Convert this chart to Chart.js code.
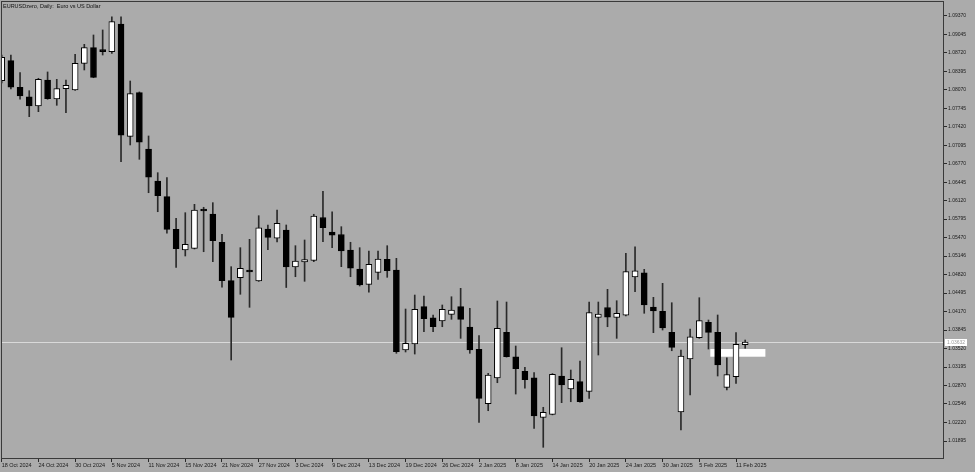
<!DOCTYPE html>
<html>
<head>
<meta charset="utf-8">
<script src="https://cdn.jsdelivr.net/npm/chart.js@4"></script>
<style>
    html, body { margin: 0; padding: 0; background: #ababab; }
    canvas { display: block; }
</style>
</head>
<body>
<canvas id="myChart" width="975" height="472"></canvas>
<script>
const symbolTitle = 'EURUSDzero, Daily:  Euro vs US Dollar';

const dates = [
    '18 Oct 2024','21 Oct 2024','22 Oct 2024','23 Oct 2024','24 Oct 2024','25 Oct 2024','28 Oct 2024','29 Oct 2024','30 Oct 2024','31 Oct 2024',
    '1 Nov 2024','4 Nov 2024','5 Nov 2024','6 Nov 2024','7 Nov 2024','8 Nov 2024','11 Nov 2024','12 Nov 2024','13 Nov 2024','14 Nov 2024',
    '15 Nov 2024','18 Nov 2024','19 Nov 2024','20 Nov 2024','21 Nov 2024','22 Nov 2024','25 Nov 2024','26 Nov 2024','27 Nov 2024','28 Nov 2024',
    '29 Nov 2024','2 Dec 2024','3 Dec 2024','4 Dec 2024','5 Dec 2024','6 Dec 2024','9 Dec 2024','10 Dec 2024','11 Dec 2024','12 Dec 2024',
    '13 Dec 2024','16 Dec 2024','17 Dec 2024','18 Dec 2024','19 Dec 2024','20 Dec 2024','23 Dec 2024','24 Dec 2024','26 Dec 2024','27 Dec 2024',
    '30 Dec 2024','31 Dec 2024','2 Jan 2025','3 Jan 2025','6 Jan 2025','7 Jan 2025','8 Jan 2025','9 Jan 2025','10 Jan 2025','13 Jan 2025',
    '14 Jan 2025','15 Jan 2025','16 Jan 2025','17 Jan 2025','20 Jan 2025','21 Jan 2025','22 Jan 2025','23 Jan 2025','24 Jan 2025','27 Jan 2025',
    '28 Jan 2025','29 Jan 2025','30 Jan 2025','31 Jan 2025','3 Feb 2025','4 Feb 2025','5 Feb 2025','6 Feb 2025','7 Feb 2025','10 Feb 2025',
    '11 Feb 2025','12 Feb 2025'
];

const open = [
    1.08228,1.08579,1.08112,1.07946,1.07783,1.08240,1.07906,1.08087,1.08064,1.08533,
    1.08808,1.08740,1.08737,1.09224,1.07250,1.08017,1.07027,1.06465,1.06189,1.05616,
    1.05252,1.05282,1.05955,1.05885,1.05388,1.04713,1.04765,1.04880,1.04707,1.05621,
    1.05458,1.05604,1.04953,1.05041,1.05068,1.05823,1.05565,1.05525,1.05252,1.04918,
    1.04649,1.04860,1.05089,1.04901,1.03495,1.03600,1.04256,1.04062,1.04004,1.04122,
    1.04256,1.03899,1.03507,1.02551,1.03003,1.03806,1.03377,1.03120,1.03008,1.02312,
    1.02365,1.03038,1.02809,1.02938,1.02769,1.04069,1.04242,1.04066,1.04105,1.04778,
    1.04853,1.04250,1.04175,1.03806,1.02405,1.03337,1.03711,1.03982,1.03806,1.02839,
    1.03025,1.03590
];
const high = [
    1.08679,1.08679,1.08368,1.08052,1.08270,1.08381,1.08252,1.08240,1.08692,1.08867,
    1.09031,1.09119,1.09352,1.09352,1.08222,1.08030,1.07256,1.06611,1.06523,1.05809,
    1.05908,1.06055,1.06003,1.06084,1.05528,1.04959,1.05293,1.05440,1.05855,1.05692,
    1.05955,1.05692,1.05328,1.05428,1.05880,1.06284,1.05925,1.05662,1.05388,1.05293,
    1.05235,1.05235,1.05328,1.05106,1.04215,1.04461,1.04444,1.04110,1.04286,1.04431,
    1.04579,1.04228,1.03750,1.03085,1.04356,1.04338,1.03565,1.03191,1.03096,1.02488,
    1.03080,1.03535,1.03143,1.03301,1.04338,1.04338,1.04561,1.04361,1.05194,1.05310,
    1.04913,1.04421,1.04667,1.04326,1.03495,1.03864,1.04414,1.04022,1.04110,1.03359,
    1.03799,1.03670
];
const low = [
    1.08187,1.08082,1.07901,1.07595,1.07683,1.07901,1.07795,1.07665,1.08055,1.08416,
    1.08280,1.08679,1.08709,1.06804,1.07098,1.06846,1.06259,1.05925,1.05546,1.04948,
    1.05147,1.05270,1.05222,1.05047,1.04597,1.03319,1.04474,1.04245,1.04700,1.05257,
    1.05393,1.04593,1.04783,1.04702,1.05047,1.05398,1.05293,1.04959,1.04783,1.04620,
    1.04509,1.04737,1.04772,1.03437,1.03460,1.03424,1.03816,1.03816,1.03904,1.04034,
    1.03700,1.03437,1.02224,1.02428,1.02920,1.03370,1.02721,1.02822,1.02119,1.01785,
    1.02355,1.02569,1.02586,1.02580,1.02646,1.03407,1.03904,1.03700,1.04095,1.04519,
    1.04140,1.03799,1.03846,1.03482,1.02089,1.02704,1.03700,1.03512,1.03038,1.02792,
    1.02909,1.03525
];
const close = [
    1.08639,1.08112,1.07959,1.07783,1.08252,1.07911,1.08087,1.08147,1.08533,1.08808,
    1.08287,1.08737,1.09265,1.07268,1.07999,1.07145,1.06530,1.06207,1.05616,1.05275,
    1.05352,1.05955,1.05938,1.05416,1.04713,1.04069,1.04931,1.04866,1.05644,1.05475,
    1.05721,1.04953,1.05059,1.05082,1.05850,1.05644,1.05512,1.05235,1.04931,1.04637,
    1.05001,1.05094,1.04888,1.03465,1.03612,1.04210,1.04045,1.03904,1.04210,1.04198,
    1.04034,1.03495,1.02646,1.03055,1.03876,1.03377,1.03166,1.02973,1.02335,1.02400,
    1.03068,1.02880,1.02980,1.02586,1.04154,1.04127,1.04071,1.04140,1.04871,1.04888,
    1.04286,1.04180,1.03881,1.03542,1.03389,1.03728,1.04010,1.03806,1.03231,1.03061,
    1.03595,1.03632
];

const priceTicks = [
    1.09370,1.09045,1.08720,1.08395,1.08070,1.07745,1.07420,1.07095,1.06770,1.06445,1.06120,1.05795,
    1.05470,1.05146,1.04820,1.04495,1.04170,1.03845,1.03520,1.03195,1.02870,1.02546,1.02220,1.01895
];
const currentPrice = 1.03632;
const priceMin = 1.01597;
const priceMax = 1.09628;
const barMin = -0.076;
const barMax = 102.55;
const labelEvery = 4;
// white label rectangle left on the chart (bar index / price)
const labelBox = { from: 77.2, to: 83.2, top: 1.03512, bottom: 1.03377 };

const fontFamily = "'Liberation Sans', Arial, sans-serif";

const bodies = dates.map((d, i) => ({ x: i, y: [open[i], close[i]] }));
const wicks = dates.map((d, i) => ({ x: i, y: [low[i], high[i]] }));
const bodyColors = dates.map((d, i) => close[i] >= open[i] ? '#ffffff' : '#000000');

function fixAxis(axis, size) {
    if (axis.isHorizontal()) axis.height = size; else axis.width = size;
    axis.paddingLeft = 0;
    axis.paddingRight = 0;
    axis.paddingTop = 0;
    axis.paddingBottom = 0;
}

const mtDecor = {
    id: 'mtDecor',
    beforeDatasetsDraw(chart) {
        const {ctx, chartArea: a, scales: {x, y}} = chart;
        ctx.save();
        const py = Math.round(y.getPixelForValue(currentPrice)) + 0.5;
        ctx.strokeStyle = '#d9d9d9';
        ctx.lineWidth = 1;
        ctx.beginPath();
        ctx.moveTo(a.left, py);
        ctx.lineTo(a.right, py);
        ctx.stroke();

        const x0 = x.getPixelForValue(labelBox.from), x1 = x.getPixelForValue(labelBox.to);
        const y0 = y.getPixelForValue(labelBox.top), y1 = y.getPixelForValue(labelBox.bottom);
        ctx.fillStyle = '#ffffff';
        ctx.fillRect(x0, y0, x1 - x0, y1 - y0);
        ctx.restore();
    },
    afterDraw(chart) {
        const {ctx, chartArea: a, scales: {y}} = chart;
        ctx.save();
        // frame
        ctx.strokeStyle = '#3a3a3a';
        ctx.lineWidth = 1;
        ctx.strokeRect(a.left + 0.5, a.top + 0.5, a.right - a.left, a.bottom - a.top);
        // title
        ctx.fillStyle = '#111111';
        ctx.font = '5.5px ' + fontFamily;
        ctx.textBaseline = 'middle';
        ctx.textAlign = 'left';
        ctx.fillText(symbolTitle, a.left + 2, a.top + 5);
        // bid label
        const py = Math.round(y.getPixelForValue(currentPrice)) + 0.5;
        ctx.fillStyle = '#ffffff';
        ctx.fillRect(a.right + 2, py - 3.5, 22, 7);
        ctx.fillStyle = '#9a9a9a';
        ctx.font = '5px ' + fontFamily;
        ctx.fillText(currentPrice.toFixed(5), a.right + 4, py);
        ctx.restore();
    }
};

const config = {
    type: 'bar',
    data: {
        datasets: [
            {
                label: 'body',
                data: bodies,
                backgroundColor: bodyColors,
                borderColor: '#000000',
                borderWidth: 1,
                borderSkipped: false,
                barThickness: 6,
                minBarLength: 2,
                grouped: false,
                order: 0
            },
            {
                label: 'wick',
                data: wicks,
                backgroundColor: '#2a2a2a',
                borderWidth: 0,
                barThickness: 1,
                grouped: false,
                order: 1
            }
        ]
    },
    options: {
        responsive: false,
        animation: false,
        devicePixelRatio: 1,
        layout: { padding: { left: 1, top: 1, right: 0, bottom: 0 } },
        plugins: {
            legend: { display: false },
            tooltip: { enabled: false }
        },
        scales: {
            x: {
                type: 'linear',
                offset: false,
                min: barMin,
                max: barMax,
                afterBuildTicks: axis => {
                    axis.ticks = dates.map((d, i) => i).filter(i => i % labelEvery === 0).map(v => ({ value: v }));
                },
                afterFit: axis => fixAxis(axis, 14),
                grid: { offset: false, drawOnChartArea: false, drawTicks: true, tickLength: 4, color: '#2a2a2a' },
                border: { display: true, color: '#3a3a3a' },
                ticks: {
                    autoSkip: false,
                    maxRotation: 0,
                    align: 'start',
                    padding: 0,
                    color: '#1a1a1a',
                    font: { family: fontFamily, size: 5.5 },
                    callback: v => dates[v]
                }
            },
            y: {
                position: 'right',
                min: priceMin,
                max: priceMax,
                afterBuildTicks: axis => {
                    axis.ticks = priceTicks.map(v => ({ value: v }));
                },
                afterFit: axis => fixAxis(axis, 32),
                grid: { drawOnChartArea: false, drawTicks: true, tickLength: 4, color: '#2a2a2a' },
                border: { display: true, color: '#3a3a3a' },
                ticks: {
                    padding: 1,
                    color: '#1a1a1a',
                    font: { family: fontFamily, size: 5 },
                    callback: v => v.toFixed(5)
                }
            }
        }
    },
    plugins: [mtDecor]
};

const myChart = new Chart(document.getElementById('myChart').getContext('2d'), config);
</script>
</body>
</html>
